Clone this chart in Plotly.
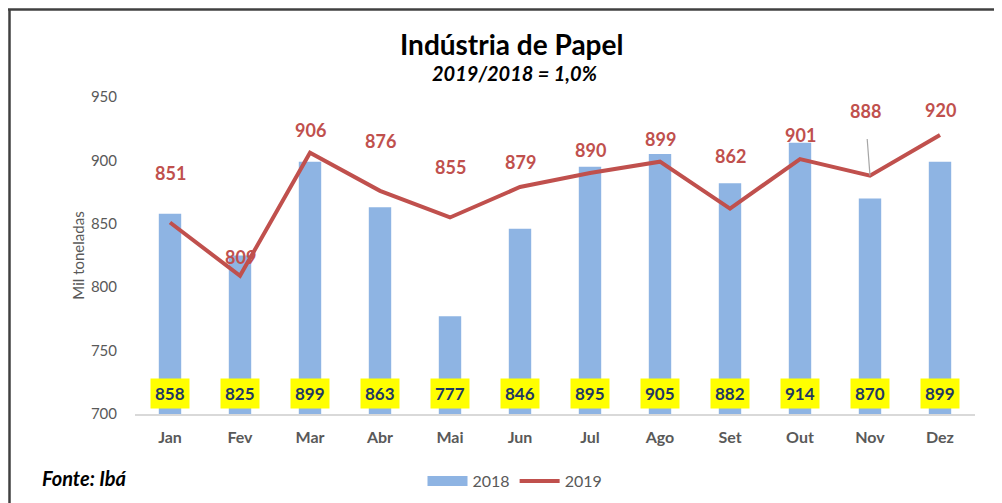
import plotly.graph_objects as go

months = ["Jan", "Fev", "Mar", "Abr", "Mai", "Jun", "Jul", "Ago", "Set", "Out", "Nov", "Dez"]
vals_2018 = [858, 825, 899, 863, 777, 846, 895, 905, 882, 914, 870, 899]
vals_2019 = [851, 809, 906, 876, 855, 879, 890, 899, 862, 901, 888, 920]
y_ticks = [700, 750, 800, 850, 900, 950]

# label offsets (pixels above the 2019 point) - styling only
label_shift = [50, 19, 23, 50, 50, 25, 23, 23, 53, 24, 65, 25]

OFF = 8  # default page body margin
W, H = 1002 - OFF, 503 - OFF
L, R, T, B = 135 - OFF, 975 - OFF, 97 - OFF, 414 - OFF  # plot area in figure px

def px2paper_x(px):  # px in window coordinates
    return (px - OFF - L) / (R - L)

def px2paper_y(py):
    return (B - (py - OFF)) / (B - T)

BAR = "#8EB4E3"
RED = "#C0504D"
GRAY = "#595959"
FONT = "Lato, Open Sans, sans-serif"

fig = go.Figure()
fig.add_trace(go.Bar(x=months, y=vals_2018, name="2018", marker=dict(color=BAR, line=dict(width=0)),
                     width=0.32, showlegend=False))
fig.add_trace(go.Scatter(x=[None], y=[None], name="2018", mode="lines",
                         line=dict(color=BAR, width=11)))
fig.add_trace(go.Scatter(x=months, y=vals_2019, name="2019", mode="lines",
                         line=dict(color=RED, width=4)))

ann = []
for m, v in zip(months, vals_2018):
    ann.append(dict(x=m, y=700, xref="x", yref="y", text="<b>%d</b>" % v, showarrow=False,
                    yanchor="bottom", yshift=5, bgcolor="#FFFF00", borderpad=4,
                    font=dict(family=FONT, size=17, color="#1F3864")))
for i, (m, v, s) in enumerate(zip(months, vals_2019, label_shift)):
    if m == "Nov":
        ann.append(dict(x=m, y=v, xref="x", yref="y", text="<b>%d</b>" % v, showarrow=True,
                        arrowhead=0, arrowwidth=1.2, arrowcolor="#A6A6A6", ax=-5, ay=-s,
                        startstandoff=16, font=dict(family=FONT, size=18, color=RED)))
    else:
        ann.append(dict(x=m, y=v, xref="x", yref="y", text="<b>%d</b>" % v, showarrow=False,
                        yanchor="middle", yshift=s, font=dict(family=FONT, size=18, color=RED)))

ann.append(dict(x=px2paper_x(511), y=px2paper_y(44), xref="paper", yref="paper",
                text="<b>Indústria de Papel</b>", showarrow=False, xanchor="center", yanchor="middle",
                font=dict(family=FONT, size=28, color="#000000")))
ann.append(dict(x=px2paper_x(514), y=px2paper_y(73), xref="paper", yref="paper",
                text="<b><i>2019/2018 = 1,0%</i></b>", showarrow=False, xanchor="center", yanchor="middle",
                font=dict(family=FONT, size=20, color="#000000")))
ann.append(dict(x=px2paper_x(40), y=px2paper_y(478), xref="paper", yref="paper",
                text="<b><i>Fonte: Ibá</i></b>", showarrow=False, xanchor="left", yanchor="middle",
                font=dict(family=FONT, size=20, color="#000000")))

shapes = [
    dict(type="line", xref="paper", yref="paper", x0=px2paper_x(8), x1=px2paper_x(1002),
         y0=px2paper_y(9.5), y1=px2paper_y(9.5), line=dict(color="#404040", width=2.5)),
    dict(type="line", xref="paper", yref="paper", x0=px2paper_x(9.5), x1=px2paper_x(9.5),
         y0=px2paper_y(9), y1=px2paper_y(503), line=dict(color="#404040", width=2.5)),
]

fig.update_layout(
    width=W, height=H,
    margin=dict(l=L, r=W - R, t=T, b=H - B, autoexpand=False),
    paper_bgcolor="white", plot_bgcolor="white",
    font=dict(family=FONT, color=GRAY),
    showlegend=True,
    legend=dict(orientation="h", x=px2paper_x(515), y=px2paper_y(481), xanchor="center", yanchor="middle",
                font=dict(family=FONT, size=16, color=GRAY), itemwidth=40),
    annotations=ann,
    shapes=shapes,
)
fig.update_xaxes(showgrid=False, showline=True, linecolor="#D9D9D9", linewidth=1.5,
                 tickfont=dict(family=FONT, size=16, color=GRAY), automargin=False,
                 tickprefix="<b>", ticksuffix="</b>", ticks="outside", tickcolor="white", ticklen=8)
fig.update_yaxes(range=[700, 950], tickvals=y_ticks, showgrid=False, zeroline=False, showline=False,
                 tickfont=dict(family=FONT, size=15, color=GRAY), automargin=False,
                 title=dict(text="Mil toneladas", font=dict(family=FONT, size=15, color=GRAY), standoff=2),
                 ticks="outside", tickcolor="white", ticklen=14)

fig.write_html("out.html")
